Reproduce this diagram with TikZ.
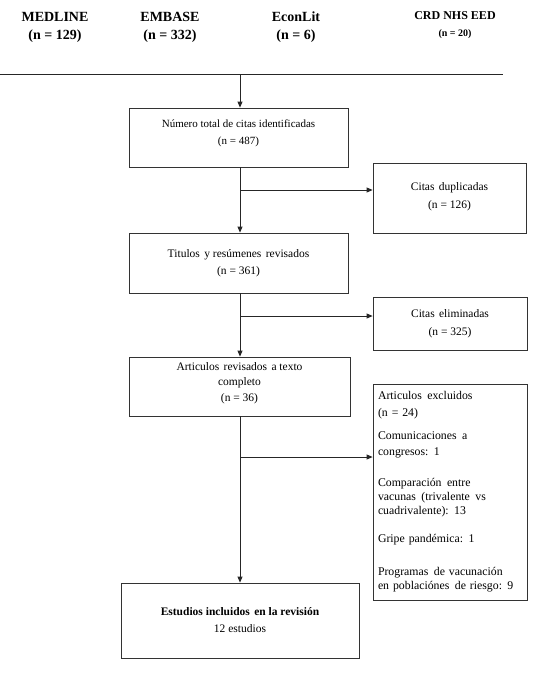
\documentclass[tikz,border=0pt]{standalone}
\usepackage{fontspec}
\setmainfont{Liberation Serif}
\usetikzlibrary{arrows.meta}
\newcommand{\ws}{\hspace{1.5pt}}
\tikzset{
  box/.style={draw=black!80, line width=0.8pt, rectangle, align=center, inner sep=0pt,
    font=\fontsize{11}{16}\selectfont},
  src/.style={font=\fontsize{14}{18}\selectfont\bfseries, align=center},
  conn/.style={line width=0.8pt, draw=black!85},
  arr/.style={conn, -{Triangle[length=6pt,width=5pt]}},
}
\begin{document}
\begin{tikzpicture}[x=1pt,y=-1pt]
\useasboundingbox (0,0) rectangle (536,675);
% sources
\node[src] (med) at (55,27) {MEDLINE\\(n = 129)};
\node[src] (emb) at (170,27) {EMBASE\\(n = 332)};
\node[src] (eco) at (296,27) {EconLit\\(n = 6)};
\node[font=\fontsize{12}{16}\selectfont\bfseries, align=center] (crd) at (455,25) {CRD NHS EED\\[1pt]{\fontsize{10}{12}\selectfont (n = 20)}};
\coordinate (hl) at (0,74);
\coordinate (hr) at (503,74);
\coordinate (hm) at (240,74);
\draw[conn] (hl) -- (hr);
% main boxes
\node[box, minimum width=219, minimum height=59] (b1) at (238.5,137.5) {N\'umero total de citas identificadas\\[1pt](n = 487)\\[-6pt]};
\node[box, minimum width=219, minimum height=60, font=\fontsize{11.5}{16}\selectfont] (b2) at (238.5,263) {Titulos\ws\ y res\'umenes\ws\ revisados\\[1pt](n = 361)};
\node[box, minimum width=221, minimum height=59, font=\fontsize{11.5}{15.5}\selectfont] (b3) at (239.5,386.5) {Articulos\ws\ revisados\ws\ a texto\\completo\\(n = 36)\\[-6pt]};
\node[box, minimum width=238, minimum height=75, font=\fontsize{11.5}{16}\selectfont] (b4) at (240,620.5) {{\bfseries Estudios incluidos\ws\ en la revisi\'on}\\[1pt]12 estudios};
% side boxes
\node[box, minimum width=153, minimum height=70, font=\fontsize{11.5}{16}\selectfont] (dup) at (449.5,198) {Citas\ws\ duplicadas\\[2pt](n = 126)\\[-12pt]};
\node[box, minimum width=154, minimum height=53, font=\fontsize{11.5}{16}\selectfont] (eli) at (450,323.5) {Citas\ws\ eliminadas\\[2pt](n = 325)};
\node[box, minimum width=154, minimum height=216, align=left, text width=144, font=\fontsize{11.8}{14}\selectfont] (exc) at (450,492)
 {Articulos\ws\ excluidos\\[3pt](n = 24)\\[9pt]Comunicaciones\ws\ a\\[2pt]congresos:\ws\ 1\\[17pt]Comparaci\'on\ws\ entre\\vacunas\ws\ (trivalente\ws\ vs\\cuadrivalente):\ws\ 13\\[14pt]Gripe pand\'emica:\ws\ 1\\[19pt]Programas\ws\ de vacunaci\'on\\en poblaci\'ones\ws\ de riesgo:\ws\ 9\\[4pt]};
% connectors
\draw[arr] (hm) -- (hm |- b1.north);
\draw[arr] (b1.south -| hm) -- (b2.north -| hm);
\draw[arr] (b2.south -| hm) -- (b3.north -| hm);
\draw[arr] (b3.south -| hm) -- (b4.north -| hm);
\coordinate (j1) at (240,190);
\coordinate (j2) at (240,316);
\coordinate (j3) at (240,457);
\draw[arr] (j1) -- (j1 -| dup.west);
\draw[arr] (j2) -- (j2 -| eli.west);
\draw[arr] (j3) -- (j3 -| exc.west);
\end{tikzpicture}
\end{document}
